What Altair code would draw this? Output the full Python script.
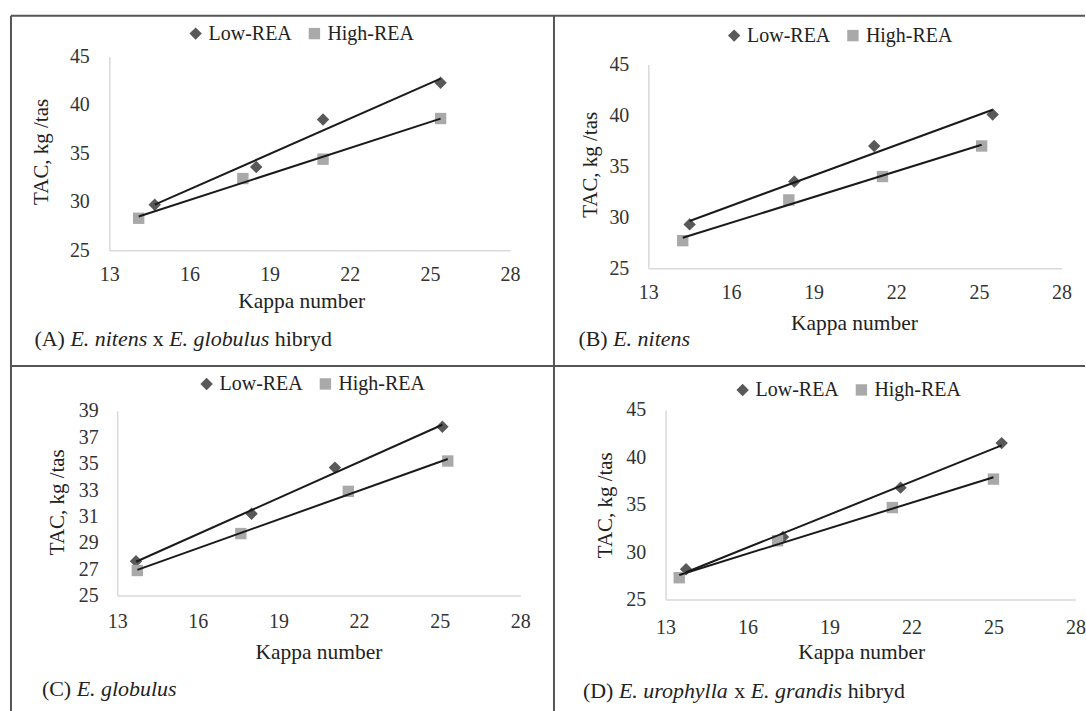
import altair as alt
import pandas as pd

FONT = "Liberation Serif"
SERIES = ["Low-REA", "High-REA"]
X_TICKS = [13, 16, 19, 22, 25, 28]
Y_TICKS_5 = [25, 30, 35, 40, 45]
Y_TICKS_C = [25, 27, 29, 31, 33, 35, 37, 39]

# Panel A: E. nitens x E. globulus hibryd
A_low_x = [14.7, 18.5, 21.0, 25.4]
A_low_y = [29.7, 33.6, 38.5, 42.3]
A_high_x = [14.1, 18.0, 21.0, 25.4]
A_high_y = [28.3, 32.4, 34.4, 38.6]
# Panel B: E. nitens
B_low_x = [14.5, 18.3, 21.2, 25.5]
B_low_y = [29.3, 33.5, 37.0, 40.1]
B_high_x = [14.25, 18.1, 21.5, 25.1]
B_high_y = [27.7, 31.7, 34.0, 37.0]
# Panel C: E. globulus
C_low_x = [13.7, 18.0, 21.1, 25.1]
C_low_y = [27.6, 31.2, 34.7, 37.8]
C_high_x = [13.75, 17.6, 21.6, 25.3]
C_high_y = [26.9, 29.7, 32.9, 35.2]
# Panel D: E. urophylla x E. grandis hibryd
D_low_x = [13.75, 17.3, 21.6, 25.3]
D_low_y = [28.2, 31.6, 36.8, 41.5]
D_high_x = [13.5, 17.1, 21.3, 25.0]
D_high_y = [27.3, 31.2, 34.7, 37.7]

CAP_A = [("(A)", False), ("E. nitens", True), ("x", False), ("E. globulus", True), ("hibryd", False)]
CAP_B = [("(B)", False), ("E. nitens", True)]
CAP_C = [("(C)", False), ("E. globulus", True)]
CAP_D = [("(D)", False), ("E. urophylla", True), ("x", False), ("E. grandis", True), ("hibryd", False)]

# Times/Liberation Serif advance widths (1/1000 em) for caption layout
W_REG = {" ": 250, "(": 333, ")": 333, "A": 722, "B": 667, "C": 667, "D": 722,
         "x": 500, "h": 500, "i": 278, "b": 500, "r": 333, "y": 500, "d": 500}
W_IT = {" ": 250, "E": 611, ".": 250, "n": 500, "i": 278, "t": 278, "e": 444, "s": 389,
        "g": 500, "l": 278, "o": 500, "b": 500, "u": 500, "r": 389, "p": 500, "h": 500,
        "y": 444, "a": 500, "d": 500}

BORDER = "#555555"
CAP_SIZE = 22


def tw(s, italic, size):
    tab = W_IT if italic else W_REG
    return sum(tab.get(c, 500) for c in s) / 1000.0 * size


def caption_layers(pieces, x0, y0, size=CAP_SIZE):
    layers = []
    x = x0
    for txt, it in pieces:
        layers.append(
            alt.Chart(pd.DataFrame({"t": [txt]}))
            .mark_text(font=FONT, fontSize=size, fontStyle="italic" if it else "normal",
                       align="left", baseline="middle", color="#222222")
            .encode(x=alt.value(x), y=alt.value(y0), text="t:N")
        )
        x += tw(txt, it, size) + tw(" ", False, size)
    return layers


def border_layers(pw, ph):
    one = pd.DataFrame({"a": [0]})
    top = alt.Chart(one).mark_rule(color=BORDER, strokeWidth=2).encode(
        x=alt.value(0), x2=alt.value(pw), y=alt.value(0))
    left = alt.Chart(one).mark_rule(color=BORDER, strokeWidth=2).encode(
        x=alt.value(0), y=alt.value(0), y2=alt.value(ph))
    return [top, left]


def panel(lx, ly, hx, hy, ydom, yticks, xr, yr, leg, ytitle, xtitle, xpad, ypad, cap, capxy, pw, ph):
    df = pd.DataFrame({
        "series": [SERIES[0]] * len(lx) + [SERIES[1]] * len(hx),
        "x": lx + hx,
        "y": ly + hy,
    })
    top, bottom = yr
    xs = alt.Scale(domain=[13, 28], range=list(xr), nice=False, zero=False)
    ys = alt.Scale(domain=ydom, range=[bottom, top], nice=False, zero=False)
    xaxis = alt.Axis(values=X_TICKS, orient="bottom", offset=-(ph - bottom),
                     domainColor="#d9d9d9", domainWidth=1.5, ticks=False, grid=False,
                     labelFlush=False, labelOverlap=False,
                     labelFont=FONT, labelFontSize=20, labelColor="#333333", labelPadding=xpad,
                     title="Kappa number", titleFont=FONT, titleFontSize=21.5,
                     titleFontWeight="normal", titleColor="#222222",
                     titleX=xtitle[0], titleY=xtitle[1], titleBaseline="middle", titleAlign="center")
    yaxis = alt.Axis(values=yticks, orient="left", offset=-xr[0],
                     domainColor="#d9d9d9", domainWidth=1.5, ticks=False, grid=False,
                     labelFlush=False, labelOverlap=False,
                     labelFont=FONT, labelFontSize=20, labelColor="#333333", labelPadding=ypad,
                     title="TAC, kg /tas", titleFont=FONT, titleFontSize=21,
                     titleFontWeight="normal", titleColor="#222222", titleAngle=270,
                     titleX=ytitle[0], titleY=ytitle[1], titleBaseline="middle", titleAlign="center")
    lg = alt.Legend(orient="none", legendX=leg[0], legendY=leg[1], direction="horizontal",
                    title=None, labelFont=FONT, labelFontSize=20, labelColor="#222222",
                    symbolSize=115, labelOffset=3, columnPadding=12, padding=0,
                    symbolStrokeWidth=0, labelLimit=300)
    color = alt.Color("series:N", scale=alt.Scale(domain=SERIES, range=["#595959", "#a9a9a9"]), legend=lg)
    shape = alt.Shape("series:N", scale=alt.Scale(domain=SERIES, range=["diamond", "square"]), legend=lg)
    size = alt.Size("series:N", scale=alt.Scale(domain=SERIES, range=[155, 130]), legend=None)
    pts = alt.Chart(df).mark_point(filled=True, opacity=1).encode(
        x=alt.X("x:Q", scale=xs, axis=xaxis),
        y=alt.Y("y:Q", scale=ys, axis=yaxis),
        color=color, shape=shape, size=size,
    )
    lines = alt.Chart(df).transform_regression("x", "y", groupby=["series"]).mark_line(
        color="#1a1a1a", strokeWidth=2
    ).encode(x="x:Q", y="y:Q", detail="series:N")
    caps = caption_layers(cap, capxy[0], capxy[1])
    return alt.layer(pts, lines, *caps, *border_layers(pw, ph)).properties(width=pw, height=ph)


W1, W2 = 544, 532
H1, H2 = 351, 346

pA = panel(A_low_x, A_low_y, A_high_x, A_high_y, [25, 45], Y_TICKS_5,
           (98.5, 500), (41, 235), (175, 8), (-67.5, 136), (290.7, 51), 14, 20, CAP_A, (23.5, 324), W1, H1)
pB = panel(B_low_x, B_low_y, B_high_x, B_high_y, [25, 45], Y_TICKS_5,
           (94.5, 508.5), (49, 253), (170.5, 10), (-57.5, 149), (300.5, 55), 14, 19.5, CAP_B, (24.5, 324), W2, H1)
pC = panel(C_low_x, C_low_y, C_high_x, C_high_y, [25, 39], Y_TICKS_C,
           (106.4, 510.3), (45, 230), (186, 8), (-59.7, 136), (308, 57), 16, 19, CAP_C, (31, 324), W1, H2)
pD = panel(D_low_x, D_low_y, D_high_x, D_high_y, [25, 45], Y_TICKS_5,
           (111.8, 522.4), (44, 234), (179, 14), (-60.4, 139), (307.8, 53), 18, 20, CAP_D, (29, 326), W2, H2)

RES = dict(color="independent", shape="independent", size="independent", x="independent", y="independent")
LRES = dict(color="independent", shape="independent", size="independent")

chart = (
    alt.concat(pA, pB, pC, pD, columns=2, spacing=0, bounds="flush")
    .resolve_scale(**RES)
    .resolve_legend(**LRES)
    .properties(padding={"left": 10, "top": 14, "right": 0, "bottom": 0}, background="white")
    .configure_view(strokeWidth=0, stroke=None)
)

chart.save("out.html", embed_options={"renderer": "svg", "actions": False})
